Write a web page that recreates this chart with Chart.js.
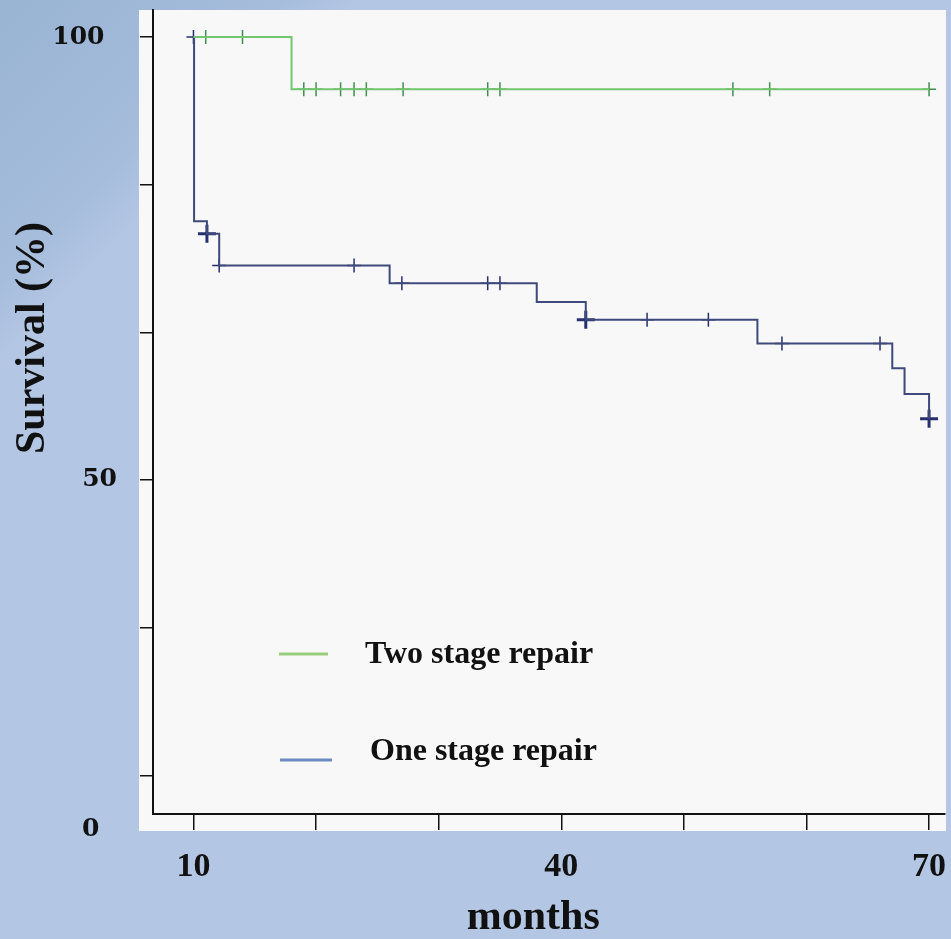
<!DOCTYPE html>
<html>
<head>
<meta charset="utf-8">
<script src="https://cdn.jsdelivr.net/npm/chart.js@4.4.1/dist/chart.umd.min.js"></script>
<style>
  html, body { margin: 0; padding: 0; }
  body {
    width: 951px;
    height: 939px;
    overflow: hidden;
    background:
      linear-gradient(135deg, rgba(132,164,198,0.55) 0%, rgba(150,178,210,0.45) 15%, rgba(179,198,228,0) 19%),
      #b3c6e4;
  }
  #wrap { position: relative; width: 951px; height: 939px; }
</style>
</head>
<body>
<div id="wrap"><canvas id="km"></canvas></div>
<script>
/* global Chart */

// Two stage repair: time of each step (months) and survival (%) after it
const twoStageTime = [10, 18, 70]
const twoStageSurv = [100, 94.1, 94.1]
const twoStageCensor = [11, 14, 19, 20, 22, 23.1, 24.1, 27.1, 34, 35, 54, 57, 70]
const twoStageCensorCount = [1, 1, 1, 1, 1, 1, 1, 1, 1, 1, 1, 1, 1]

// One stage repair
const oneStageTime = [10, 10.05, 11.1, 12.1, 26, 38, 42, 56, 67, 68, 70]
const oneStageSurv = [100, 79.2, 77.8, 74.2, 72.2, 70.1, 68.1, 65.4, 62.6, 59.7, 56.9]
const oneStageCensor = [10, 11.1, 12.1, 23.1, 27, 34, 35, 42, 47, 52, 58, 66, 70]
const oneStageCensorCount = [1, 2, 1, 1, 1, 1, 1, 2, 1, 1, 1, 1, 2]

const seriesLabels = ['Two stage repair', 'One stage repair']

// axes
const xTicks = [10, 20, 30, 40, 50, 60, 70]
const xTickLabels = ['10', '', '', '40', '', '', '70']
const yTicks = [12.3, 16.67, 33.33, 50, 66.67, 83.33, 100]
const yTickLabels = ['0', '', '', '50', '', '', '100']
const xTitle = 'months'
const yTitle = 'Survival (%)'

// survival level at time t (value after any step at t)
function survAt (times, surv, t) {
  let s = surv[0]
  times.forEach((tt, i) => { if (tt <= t) s = surv[i] })
  return s
}

function curve (times, surv) {
  return times.map((t, i) => ({ x: t, y: surv[i] }))
}

function marks (times, surv, censor) {
  return censor.map(t => ({ x: t, y: survAt(times, surv, t) }))
}

const GREEN = '#73c56f'
const GREEN_MARK = '#3f8f50'
const NAVY = '#3e4a7b'
const NAVY_MARK = '#27306d'

// scales keep the fixed box: no extra room for edge labels
function noScalePadding (scale) {
  scale.paddingLeft = 0
  scale.paddingRight = 0
  scale.paddingTop = 0
  scale.paddingBottom = 0
}

const panelPlugin = {
  id: 'panel',
  beforeDraw (chart) {
    const { ctx, chartArea: ca } = chart
    ctx.save()
    ctx.fillStyle = '#f8f8f8'
    ctx.fillRect(ca.left - 14, ca.top, ca.width + 15, ca.height + 17)
    ctx.restore()
  }
}

const extrasPlugin = {
  id: 'extras',
  afterDraw (chart) {
    const { ctx } = chart
    ctx.save()
    // y axis title
    ctx.translate(33, 338)
    ctx.rotate(-Math.PI / 2)
    ctx.fillStyle = '#111'
    ctx.font = 'bold 42px "Liberation Serif", "Times New Roman", serif'
    ctx.textAlign = 'center'
    ctx.textBaseline = 'middle'
    ctx.fillText(yTitle, 0, 0)
    ctx.restore()

    // legend inside the plot
    const items = [
      { text: seriesLabels[0], color: '#98cb7b', lx: 279, lw: 49, ly: 654, tx: 365, ty: 655 },
      { text: seriesLabels[1], color: '#6a8bc3', lx: 280, lw: 52, ly: 760, tx: 370, ty: 752 }
    ]
    ctx.save()
    ctx.font = 'bold 32px "Liberation Serif", "Times New Roman", serif'
    ctx.textBaseline = 'middle'
    ctx.textAlign = 'left'
    items.forEach(it => {
      ctx.strokeStyle = it.color
      ctx.lineWidth = 3
      ctx.beginPath()
      ctx.moveTo(it.lx, it.ly)
      ctx.lineTo(it.lx + it.lw, it.ly)
      ctx.stroke()
      ctx.fillStyle = '#111'
      ctx.fillText(it.text, it.tx, it.ty)
    })
    ctx.restore()
  }
}

const yLabelPad = ['\u2002\u2009', '', '', '', '', '', '\u2002']

const config = {
  type: 'line',
  data: {
    datasets: [
      {
        label: seriesLabels[0],
        data: curve(twoStageTime, twoStageSurv),
        borderColor: GREEN,
        borderWidth: 2,
        stepped: true,
        pointRadius: 0,
        fill: false
      },
      {
        label: seriesLabels[1],
        data: curve(oneStageTime, oneStageSurv),
        borderColor: NAVY,
        borderWidth: 2,
        stepped: true,
        pointRadius: 0,
        fill: false
      },
      {
        label: seriesLabels[0] + ' censored',
        data: marks(twoStageTime, twoStageSurv, twoStageCensor),
        showLine: false,
        clip: false,
        pointStyle: 'cross',
        pointRadius: ctx => 7 + 2 * (twoStageCensorCount[ctx.dataIndex] - 1),
        pointBorderWidth: ctx => twoStageCensorCount[ctx.dataIndex] > 1 ? 3 : 1.5,
        borderColor: GREEN_MARK
      },
      {
        label: seriesLabels[1] + ' censored',
        data: marks(oneStageTime, oneStageSurv, oneStageCensor),
        showLine: false,
        clip: false,
        pointStyle: 'cross',
        pointRadius: ctx => 7 + 2 * (oneStageCensorCount[ctx.dataIndex] - 1),
        pointBorderWidth: ctx => oneStageCensorCount[ctx.dataIndex] > 1 ? 3 : 1.5,
        borderColor: NAVY_MARK
      }
    ]
  },
  options: {
    responsive: true,
    maintainAspectRatio: false,
    animation: false,
    layout: { autoPadding: false, padding: { left: 0, top: 10, right: 6, bottom: 0 } },
    plugins: {
      legend: { display: false },
      tooltip: { enabled: false }
    },
    scales: {
      x: {
        type: 'linear',
        min: 6.7,
        max: 71.3,
        afterBuildTicks: scale => { scale.ticks = xTicks.map(v => ({ value: v })) },
        afterFit: scale => {
          scale.height = 125
          noScalePadding(scale)
        },
        grid: {
          drawOnChartArea: false,
          drawTicks: true,
          tickLength: 16,
          color: '#111',
          lineWidth: 1.5
        },
        border: { color: '#111', width: 2 },
        ticks: {
          autoSkip: false,
          maxRotation: 0,
          padding: 17,
          color: '#111',
          font: { family: '"Liberation Serif", "Times New Roman", serif', size: 34, weight: 'bold' },
          callback: (value, index) => xTickLabels[index]
        },
        title: {
          display: true,
          text: xTitle + '\u00a0\u00a0\u00a0',
          color: '#111',
          padding: { top: 0, bottom: 0 },
          font: { family: '"Liberation Serif", "Times New Roman", serif', size: 42, weight: 'bold', lineHeight: 1.0 }
        }
      },
      y: {
        type: 'linear',
        min: 12.3,
        max: 103.05,
        afterBuildTicks: scale => { scale.ticks = yTicks.map(v => ({ value: v })) },
        afterFit: scale => {
          scale.width = 153
          noScalePadding(scale)
        },
        grid: {
          drawOnChartArea: false,
          drawTicks: true,
          tickLength: 13,
          color: ctx => ctx.index === 0 ? 'rgba(0,0,0,0)' : '#111',
          lineWidth: 1.5
        },
        border: { color: '#111', width: 2 },
        ticks: {
          autoSkip: false,
          padding: 23,
          color: '#111',
          font: { family: '"DejaVu Serif", serif', size: 25, weight: 'bold' },
          callback: (value, index) => {
            const lab = yTickLabels[index]
            if (!lab) return ''
            return index === 0 ? ['', lab + yLabelPad[index]] : lab + yLabelPad[index]
          }
        }
      }
    }
  },
  plugins: [panelPlugin, extrasPlugin]
}

const km = new Chart(document.getElementById('km'), config)
</script>
</body>
</html>
